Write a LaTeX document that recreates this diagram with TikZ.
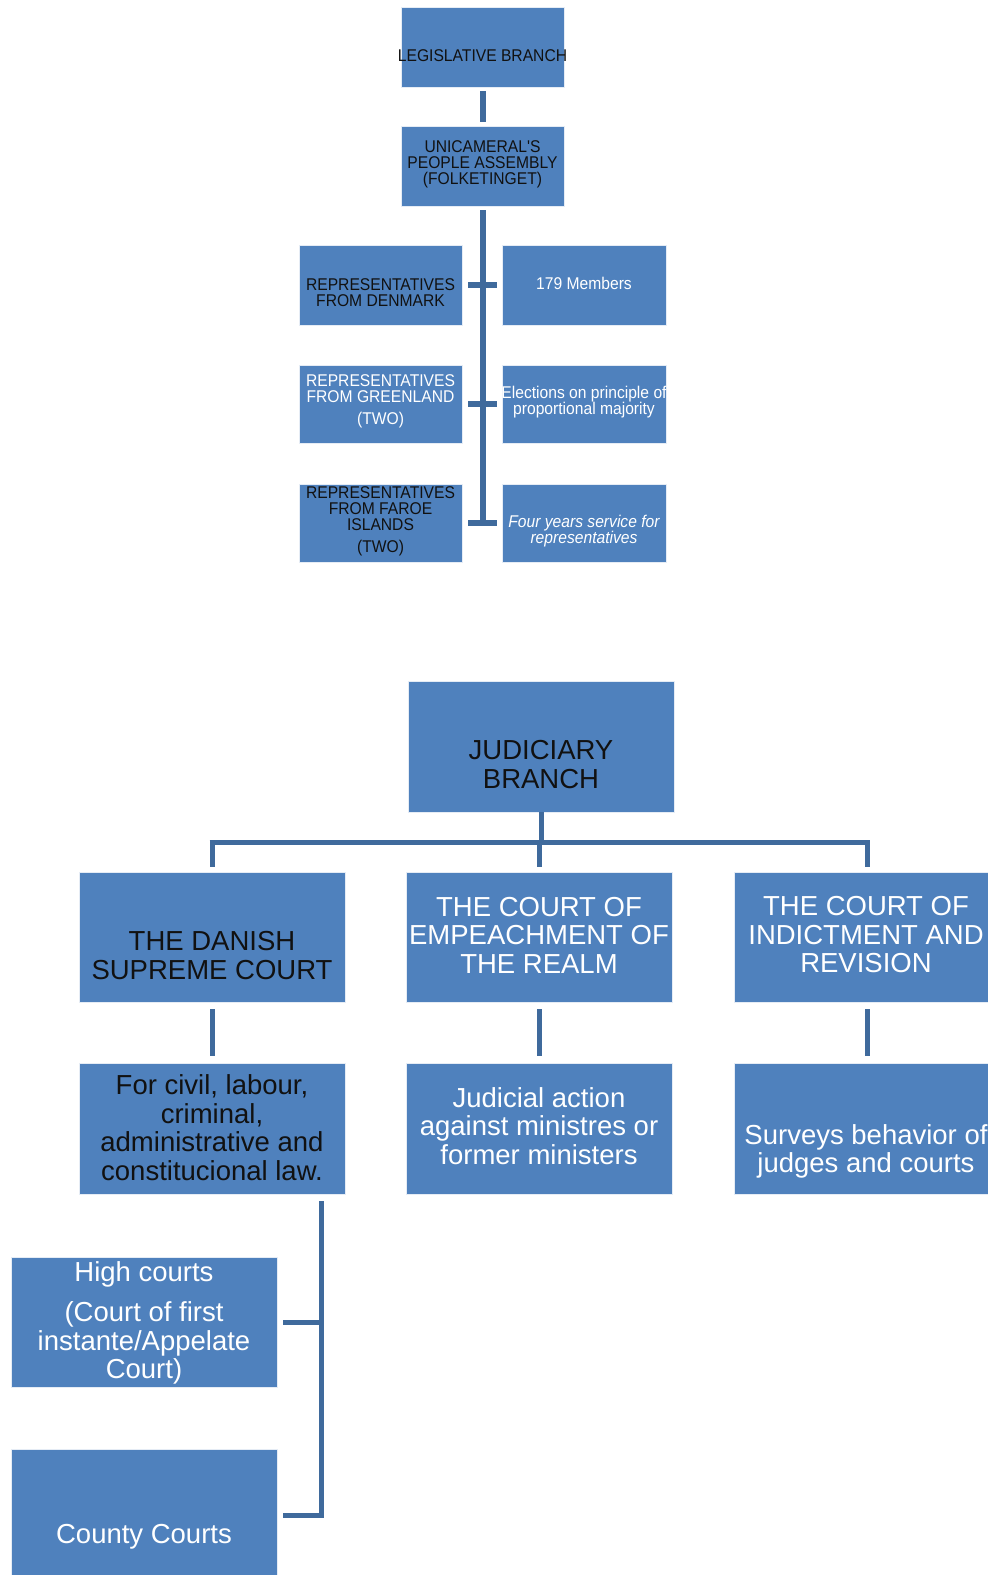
\documentclass[tikz,border=0pt]{standalone}
\usepackage{fontspec}
\setmainfont{Liberation Sans}
\newfontfamily\narrowsf[FakeStretch=0.92]{Liberation Sans}
\definecolor{boxblue}{HTML}{4F81BD}
\definecolor{connblue}{HTML}{3F6A9C}
\definecolor{darktext}{HTML}{111111}
\tikzset{
  box/.style={rectangle, fill=boxblue, draw=white!85!boxblue, line width=0.6pt, inner sep=0pt},
  smalltxt/.style={align=center, inner sep=0pt, font=\narrowsf\fontsize{17}{16}\selectfont},
  bigtxt/.style={align=center, inner sep=0pt, font=\fontsize{27.5}{28.5}\selectfont},
  conn/.style={draw=connblue, line width=6pt},
  connj/.style={draw=connblue, line width=5pt},
}
\begin{document}
\begin{tikzpicture}[x=1pt,y=-1pt]
\useasboundingbox (0,0) rectangle (988,1575);
\fill[white] (0,0) rectangle (988,1575);
% ---------- Legislative ----------
\node[box, minimum width=163pt, minimum height=80pt] (leg) at (482.5,47) {};
\node[box, minimum width=163pt, minimum height=80pt] (uni) at (482.5,166) {};
\node[box, minimum width=163pt, minimum height=80pt] (l1) at (380.5,285) {};
\node[box, minimum width=164pt, minimum height=80pt] (r1) at (584,285) {};
\node[box, minimum width=163pt, minimum height=78pt] (l2) at (380.5,404) {};
\node[box, minimum width=164pt, minimum height=78pt] (r2) at (584,404) {};
\node[box, minimum width=163pt, minimum height=78pt] (l3) at (380.5,523) {};
\node[box, minimum width=164pt, minimum height=78pt] (r3) at (584,523) {};

\node[smalltxt, text=darktext] (legt) at (482.5,56) {LEGISLATIVE BRANCH};
\node[smalltxt, text=darktext] (unit) at (482.5,164) {UNICAMERAL'S\\PEOPLE ASSEMBLY\\(FOLKETINGET)};
\node[smalltxt, text=darktext] (l1t) at (380.5,292.5) {REPRESENTATIVES\\FROM DENMARK};
\node[smalltxt, text=white] (r1t) at (584,283) {179 Members};
\node[smalltxt, text=white] (l2t) at (380.5,401.7) {REPRESENTATIVES\\FROM GREENLAND\\[6pt](TWO)};
\node[smalltxt, text=white] (r2t) at (584,401.6) {Elections on principle of\\proportional majority};
\node[smalltxt, text=darktext] (l3t) at (380.5,521) {REPRESENTATIVES\\FROM FAROE\\ISLANDS\\[6pt](TWO)};
\node[smalltxt, text=white, font=\narrowsf\itshape\fontsize{17}{16}\selectfont] (r3t) at (584,531.5) {Four years service for\\representatives};

\draw[conn, shorten <=4pt, shorten >=4pt] (leg.south) -- (uni.north);
\draw[conn, shorten <=4pt] (uni.south) -- (uni.south |- l3.east);
\draw[conn] ([xshift=6pt]l1.east) -- ([xshift=-5pt]r1.west);
\draw[conn] ([xshift=6pt]l2.east) -- ([xshift=-5pt]r2.west);
\draw[conn] ([xshift=6pt]l3.east) -- ([xshift=-5pt]r3.west);

% ---------- Judiciary ----------
\node[box, minimum width=266pt, minimum height=131pt] (jud) at (541,746.5) {};
\node[box, minimum width=266pt, minimum height=130pt] (a1) at (212,937) {};
\node[box, minimum width=266pt, minimum height=130pt] (a2) at (539,937) {};
\node[box, minimum width=266pt, minimum height=130pt] (a3) at (867,937) {};
\node[box, minimum width=266pt, minimum height=131pt] (b1) at (212,1128.5) {};
\node[box, minimum width=266pt, minimum height=131pt] (b2) at (539,1128.5) {};
\node[box, minimum width=266pt, minimum height=131pt] (b3) at (867,1128.5) {};
\node[box, minimum width=266pt, minimum height=130pt] (hc) at (144,1322) {};
\node[box, minimum width=266pt, minimum height=132pt] (cc) at (144,1515) {};

\node[bigtxt, text=darktext] (judt) at (541,764.5) {JUDICIARY\\BRANCH};
\node[bigtxt, text=darktext] (a1t) at (212,955.5) {THE DANISH\\SUPREME COURT};
\node[bigtxt, text=white] (a2t) at (539,935) {THE COURT OF\\EMPEACHMENT OF\\THE REALM};
\node[bigtxt, text=white] (a3t) at (866,935) {THE COURT OF\\INDICTMENT AND\\REVISION};
\node[bigtxt, text=darktext] (b1t) at (212,1127.5) {For civil, labour,\\criminal,\\administrative and\\constitucional law.};
\node[bigtxt, text=white] (b2t) at (539,1126) {Judicial action\\against ministres or\\former ministers};
\node[bigtxt, text=white] (b3t) at (866,1151.5) {Surveys behavior of\\judges and courts};
\node[bigtxt, text=white] (hct) at (144,1323) {High courts\\[11.5pt](Court of first\\instante/Appelate\\Court)};
\node[bigtxt, text=white] (cct) at (144,1537) {County Courts};

\coordinate (hb) at (540,842);
\draw[connj] (jud.south) -- (jud.south |- hb);
\draw[connj] ([xshift=-2.5pt]a1.north |- hb) -- ([xshift=2.5pt]a3.north |- hb);
\draw[connj, shorten >=5pt] (a1.north |- hb) -- (a1.north);
\draw[connj, shorten >=5pt] (a2.north |- hb) -- (a2.north);
\draw[connj, shorten >=5pt] (a3.north |- hb) -- (a3.north);
\draw[connj, shorten <=7pt, shorten >=7pt] (a1.south) -- (b1.north);
\draw[connj, shorten <=7pt, shorten >=7pt] (a2.south) -- (b2.north);
\draw[connj, shorten <=7pt, shorten >=7pt] (a3.south) -- (b3.north);

\coordinate (s0) at ([xshift=-24pt,yshift=-7pt]b1.south east);
\draw[connj] (s0) -- (s0 |- cc.east) -- ([xshift=6pt]cc.east);
\draw[connj] (s0 |- hc.east) -- ([xshift=6pt]hc.east);
\end{tikzpicture}
\end{document}
